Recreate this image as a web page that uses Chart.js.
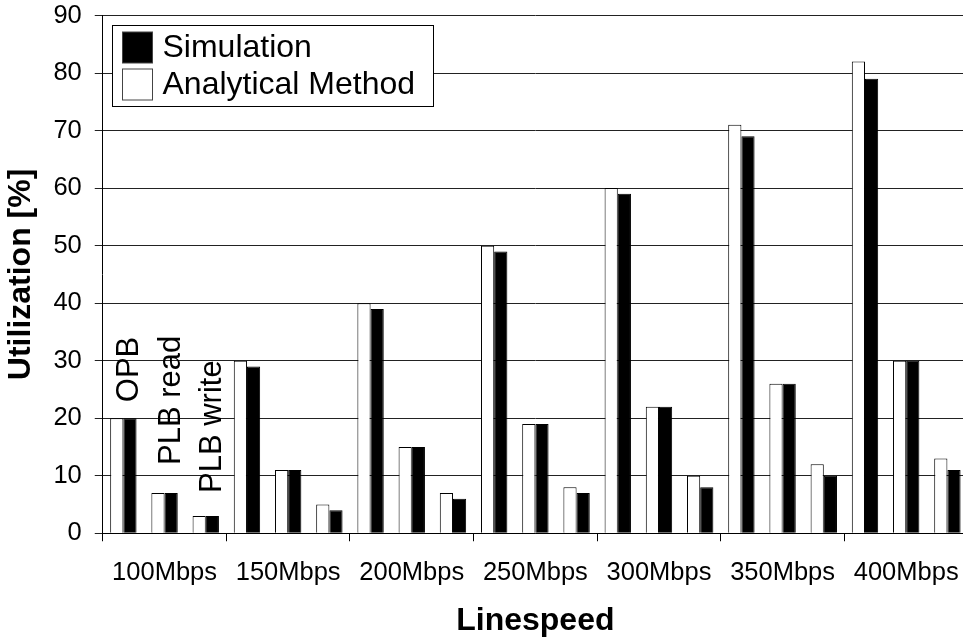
<!DOCTYPE html>
<html>
<head>
<meta charset="utf-8">
<title>Utilization vs Linespeed</title>
<script src="https://cdn.jsdelivr.net/npm/chart.js@4.4.1/dist/chart.umd.min.js"></script>
<style>
    html, body { margin: 0; padding: 0; background: #fff; overflow: hidden; }
    .wrap { width: 970px; height: 639px; position: relative; }
</style>
</head>
<body>
<div class="wrap"><canvas id="chart"></canvas></div>
<script>
/* ── Data ── */
const categories = ['100Mbps', '150Mbps', '200Mbps', '250Mbps', '300Mbps', '350Mbps', '400Mbps'];
const groups = ['OPB', 'PLB read', 'PLB write'];

// Analytical Method
const anaOPB   = [20, 30, 40, 50, 60, 71, 82];
const anaRead  = [7, 11, 15, 19, 22, 26, 30];
const anaWrite = [3, 5, 7, 8, 10, 12, 13];

// Simulation
const simOPB   = [20, 29, 39, 49, 59, 69, 79];
const simRead  = [7, 11, 15, 19, 22, 26, 30];
const simWrite = [3, 4, 6, 7, 8, 10, 11];

const yTicks = [0, 10, 20, 30, 40, 50, 60, 70, 80, 90];

const FONT = '"Liberation Sans", Arial, Helvetica, sans-serif';

// ── Interleave groups into one slot per bar pair ──
function interleave(a, b, c) {
    const out = [];
    categories.forEach((_, i) => out.push(a[i], b[i], c[i]));
    return out;
}
const slotLabels = [];
categories.forEach(c => groups.forEach(g => slotLabels.push(c + ' ' + g)));

// ── Boxed legend inside the plot ──
const boxedLegend = {
    id: 'boxedLegend',
    afterDraw(chart) {
        const { ctx, chartArea } = chart;
        const order = [1, 0]; // Simulation listed first
        const x0 = Math.round(chartArea.left) + 9.5;
        const y0 = Math.round(chartArea.top) + 9.5;
        const rowH = 37;
        ctx.save();
        ctx.font = '32px ' + FONT;
        let maxW = 0;
        order.forEach(i => {
            maxW = Math.max(maxW, ctx.measureText(chart.data.datasets[i].label).width);
        });
        const w = Math.round(50 + maxW + 18), h = 81;
        ctx.fillStyle = '#fff';
        ctx.fillRect(x0, y0, w, h);
        ctx.strokeStyle = '#000';
        ctx.lineWidth = 1;
        ctx.strokeRect(x0, y0, w, h);
        order.forEach((i, r) => {
            const ds = chart.data.datasets[i];
            const cy = y0 + 21.5 + r * rowH;
            ctx.fillStyle = ds.backgroundColor;
            ctx.fillRect(x0 + 10, Math.round(cy - 15.5), 30, 31);
            ctx.strokeStyle = '#444';
            ctx.strokeRect(x0 + 10, Math.round(cy - 15.5), 30, 31);
            ctx.fillStyle = '#000';
            ctx.textBaseline = 'alphabetic';
            ctx.textAlign = 'left';
            ctx.fillText(ds.label, x0 + 50, cy + 10);
        });
        ctx.restore();
    }
};

// ── Rotated group names above the first category ──
const labelLift = [16, 28, 23];
const groupLabels = {
    id: 'groupLabels',
    afterDatasetsDraw(chart) {
        const { ctx } = chart;
        const metaA = chart.getDatasetMeta(0);
        const metaS = chart.getDatasetMeta(1);
        ctx.save();
        ctx.font = '31px ' + FONT;
        ctx.fillStyle = '#000';
        ctx.textAlign = 'left';
        ctx.textBaseline = 'alphabetic';
        groups.forEach((g, j) => {
            const a = metaA.data[j], s = metaS.data[j];
            const xc = (a.x + s.x) / 2;
            const top = Math.min(a.y, s.y);
            ctx.save();
            ctx.translate(xc + 15, top - labelLift[j]);
            ctx.rotate(-Math.PI / 2);
            ctx.fillText(g, 0, 0);
            ctx.restore();
        });
        ctx.restore();
    }
};

new Chart(document.getElementById('chart'), {
    type: 'bar',
    data: {
        labels: slotLabels,
        datasets: [
            {
                label: 'Analytical Method',
                data: interleave(anaOPB, anaRead, anaWrite),
                backgroundColor: '#ffffff',
                borderColor: '#000000',
                borderWidth: 1,
                xAxisID: 'x'
            },
            {
                label: 'Simulation',
                data: interleave(simOPB, simRead, simWrite),
                backgroundColor: '#000000',
                borderColor: '#000000',
                borderWidth: 1,
                xAxisID: 'x'
            }
        ]
    },
    options: {
        responsive: true,
        maintainAspectRatio: false,
        animation: false,
        categoryPercentage: 0.64,
        barPercentage: 1.0,
        layout: { padding: { left: 0, right: 2, top: 0, bottom: 0 } },
        plugins: {
            legend: { display: false },
            tooltip: { enabled: false }
        },
        scales: {
            x: {
                display: false,
                offset: true
            },
            x2: {
                type: 'category',
                labels: categories,
                position: 'bottom',
                offset: true,
                grid: {
                    offset: true,
                    drawOnChartArea: false,
                    drawTicks: true,
                    tickLength: 8,
                    color: '#000'
                },
                border: { display: true, color: '#000' },
                ticks: {
                    color: '#000',
                    // tall line box places the labels without extra side padding
                    font: { family: FONT, size: 25.5, lineHeight: 2.5 },
                    padding: 0,
                    maxRotation: 0,
                    minRotation: 0,
                    autoSkip: false
                },
                title: {
                    display: true,
                    text: 'Linespeed',
                    color: '#000',
                    font: { family: FONT, size: 32, weight: 'bold', lineHeight: 1 },
                    padding: { top: 0, bottom: 2 }
                }
            },
            y: {
                min: 0,
                max: 90,
                afterBuildTicks: axis => { axis.ticks = yTicks.map(v => ({ value: v })); },
                ticks: {
                    color: '#000',
                    font: { family: FONT, size: 25.5, lineHeight: 0.2 },
                    padding: 13
                },
                grid: { color: '#222', lineWidth: 1, tickLength: 8 },
                border: { display: true, color: '#000' },
                title: {
                    display: true,
                    text: 'Utilization [%]',
                    color: '#000',
                    font: { family: FONT, size: 32, weight: 'bold' },
                    padding: { top: 2, bottom: 0 }
                }
            }
        }
    },
    plugins: [groupLabels, boxedLegend]
});
</script>
</body>
</html>
